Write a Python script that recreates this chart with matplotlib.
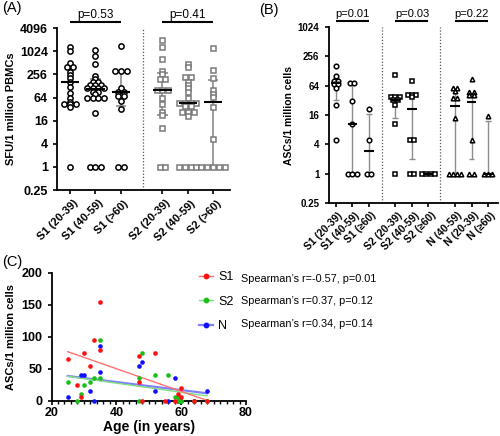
import matplotlib.pyplot as plt
import matplotlib.transforms as mtransforms
import numpy as np
from matplotlib.lines import Line2D
from matplotlib.ticker import MultipleLocator

plt.rcParams['font.family'] = ['Liberation Sans', 'DejaVu Sans']

# ---- Panel A: SFU per 1 million PBMCs (log2 axis)
a_groups = ["S1 (20-39)", "S1 (40-59)", "S1 (>60)",
            "S2 (20-39)", "S2 (40-59)", "S2 (>60)"]
a_s1_20_39 = [1300, 1050, 500, 400, 400, 290, 250, 205, 160, 123, 86, 61,
              50, 43, 43, 43, 36, 1]
a_s1_40_59 = [1100, 780, 480, 240, 190, 167, 167, 136, 136, 136, 111, 111,
              111, 111, 91, 91, 78, 61, 61, 61, 61, 26, 1, 1, 1]
a_s1_60 = [1400, 310, 310, 310, 115, 88, 88, 70, 70, 52, 32, 1, 1]
a_s2_20_39 = [2000, 1350, 640, 315, 260, 190, 190, 100, 100, 100, 61, 43,
              27, 22, 10.5, 1, 1]
a_s2_40_59 = [480, 395, 217, 217, 160, 136, 111, 88, 64, 45, 45, 45, 45,
              39, 39, 27, 27, 27, 21, 1, 1, 1, 1]
a_s2_60 = [1280, 335, 211, 101, 79, 65, 37, 5.2, 1, 1, 1, 1, 1]
a_median = [160, 105, 88, 100, 47, 50]
a_q1 = [43, 60, 38, 22.5, 27, 1]
a_q3 = [360, 190, 295, 277, 190, 180]
a_pvals = ["p=0.53", "p=0.41"]
a_yticks = [0.25, 1, 4, 16, 64, 256, 1024, 4096]

# ---- Panel B: ASCs per 1 million cells (log2 axis)
b_groups = ["S1 (20-39)", "S1 (40-59)", "S1 (\u226560)",
            "S2 (20-39)", "S2 (40-59)", "S2 (\u226560)",
            "N (40-59)", "N (20-39)", "N (\u226560)"]
b_s1_20_39 = [160, 100, 80, 80, 70, 70, 56, 26, 5]
b_s1_40_59 = [72, 72, 31, 10.5, 1, 1, 1]
b_s1_60 = [21, 5, 1, 1]
b_s2_20_39 = [105, 38, 38, 38, 32, 32, 26, 10.5, 1]
b_s2_40_59 = [80, 42, 42, 42, 37, 5, 5, 1, 1]
b_s2_60 = [1, 1, 1, 1]
b_n_40_59 = [58, 58, 50, 36, 36, 14, 1, 1, 1, 1]
b_n_20_39 = [88, 48, 48, 42, 42, 5, 1, 1]
b_n_60 = [15, 1, 1, 1]
b_median = [73, 10.5, 3, 32, 21, 1, 25, 29, 1]
b_q1 = [33, 1, 1, 14, 2, 1, 1, 2, 1]
b_q3 = [92, 70, 17, 38, 42, 1, 54, 41, 12]
b_pvals = ["p=0.01", "p=0.03", "p=0.22"]
b_yticks = [0.25, 1, 4, 16, 64, 256, 1024]

# ---- Panel C: ASCs vs age
c_s1_age = [25, 28, 29, 30, 32, 33, 35, 35, 47, 47, 48, 52, 55, 58, 59, 60,
            60, 64, 68]
c_s1_val = [65, 25, 5, 75, 55, 95, 80, 155, 70, 30, 0, 75, 0, 0, 10, 20,
            5, 0, 0]
c_s2_age = [25, 28, 29, 30, 32, 33, 35, 35, 47, 47, 48, 52, 56, 58, 59, 59,
            60, 60, 64, 68]
c_s2_val = [30, 0, 10, 25, 30, 35, 95, 35, 35, 0, 75, 40, 40, 5, 5, 0,
            0, 0, 0, 0]
c_n_age = [25, 29, 30, 32, 33, 35, 35, 47, 48, 52, 56, 58, 59, 60, 64, 68]
c_n_val = [5, 40, 40, 15, 0, 85, 45, 55, 60, 15, 0, 35, 0, 0, 0, 15]
c_labels = ["S1", "S2", "N"]
c_stats = ["Spearman\u2019s r=-0.57, p=0.01",
           "Spearman\u2019s r=0.37, p=0.12",
           "Spearman\u2019s r=0.34, p=0.14"]


def spread(vals, step):
    # put equal values side by side, centred on the column
    vals = np.asarray(vals, float)
    offs = np.zeros(len(vals))
    for v in np.unique(vals):
        idx = np.where(vals == v)[0]
        offs[idx] = (np.arange(len(idx)) - (len(idx) - 1) / 2) * step
    return offs


def dot_column(ax, x, vals, med, lo, hi, marker, color, ms, mew, step,
               med_w, cap_w, lw):
    whisk = "#8c8c8c"
    ax.vlines(x, lo, hi, color=whisk, lw=lw, zorder=1)
    ax.hlines([lo, hi], x - cap_w, x + cap_w, color=whisk, lw=lw, zorder=1)
    ax.plot(x + spread(vals, step), vals, ls="none", marker=marker,
            mfc="white", mec=color, ms=ms, mew=mew, zorder=3, clip_on=False)
    ax.hlines(med, x - med_w, x + med_w, color="black", lw=1.5, zorder=4)


def style_axes(ax):
    for s in ("top", "right"):
        ax.spines[s].set_visible(False)
    for s in ("left", "bottom"):
        ax.spines[s].set_linewidth(1.3)
    ax.tick_params(direction="out", length=3, width=1.2)


def pbar(ax, x0, x1, text, ybar, ytxt, fs):
    trans = mtransforms.blended_transform_factory(ax.transData, ax.transAxes)
    ax.plot([x0, x1], [ybar, ybar], transform=trans, color="black", lw=1.5,
            clip_on=False, solid_capstyle="butt")
    ax.text((x0 + x1) / 2, ytxt, text, transform=trans, ha="center",
            va="center", fontsize=fs)


def slanted_labels(ax, labels, fs, pad, dx_pt):
    ax.set_xticklabels(labels, rotation=45, ha="right", va="center",
                       rotation_mode="anchor", fontweight="bold", fontsize=fs)
    ax.tick_params(axis="x", pad=pad)
    off = mtransforms.ScaledTranslation(dx_pt / 72, 0, fig.dpi_scale_trans)
    for lab in ax.get_xticklabels():
        lab.set_transform(lab.get_transform() + off)


fig = plt.figure(figsize=(5, 4.36), dpi=100)

# ---------------- (A)
axA = fig.add_axes([0.114, 0.5642, 0.346, 0.371])
style_axes(axA)
axA.set_yscale("log", base=2)
axA.set_ylim(0.25, 4096)
axA.set_xlim(-0.52, 6.32)
pos_a = [0, 1, 2, 3.65, 4.65, 5.65]
a_data = [a_s1_20_39, a_s1_40_59, a_s1_60, a_s2_20_39, a_s2_40_59, a_s2_60]
for i, vals in enumerate(a_data):
    s1 = i < 3
    dot_column(axA, pos_a[i], vals, a_median[i], a_q1[i], a_q3[i],
               "o" if s1 else "s", "black" if s1 else "#7a7a7a",
               3.8 if s1 else 3.6, 1.1, 0.23, 0.36, 0.2, 1.2)
axA.axvline(2.87, color="#555555", ls=(0, (1, 1.5)), lw=0.9)
axA.set_yticks(a_yticks)
axA.set_yticklabels([f"{t:g}" for t in a_yticks], fontweight="bold",
                    fontsize=9)
axA.yaxis.set_minor_locator(plt.NullLocator())
axA.set_xticks(pos_a)
slanted_labels(axA, a_groups, 8, 5.5, 4.5)
axA.set_ylabel("SFU/1 million PBMCs", fontweight="bold", fontsize=8,
               labelpad=3)
pbar(axA, pos_a[0], pos_a[2], a_pvals[0], 1.041, 1.085, 8.5)
pbar(axA, pos_a[3], pos_a[5], a_pvals[1], 1.041, 1.085, 8.5)
fig.text(0.004, 0.982, "(A)", fontsize=10.5, va="center", ha="left")

# ---------------- (B)
axB = fig.add_axes([0.657, 0.5337, 0.339, 0.405])
style_axes(axB)
axB.set_yscale("log", base=2)
axB.set_ylim(0.25, 1024)
axB.set_xlim(-0.44, 9.8)
pos_b = [0, 1, 2, 3.6, 4.6, 5.6, 7.2, 8.2, 9.2]
b_data = [b_s1_20_39, b_s1_40_59, b_s1_60, b_s2_20_39, b_s2_40_59, b_s2_60,
          b_n_40_59, b_n_20_39, b_n_60]
b_markers = ["o"] * 3 + ["s"] * 3 + ["^"] * 3
for i, vals in enumerate(b_data):
    dot_column(axB, pos_b[i], vals, b_median[i], b_q1[i], b_q3[i],
               b_markers[i], "black", 3.3, 1.1, 0.26, 0.28, 0.18, 1.0)
axB.axvline(2.77, color="#555555", ls=(0, (1, 1.5)), lw=0.9)
axB.axvline(6.27, color="#555555", ls=(0, (1, 1.5)), lw=0.9)
axB.set_yticks(b_yticks)
axB.set_yticklabels([f"{t:g}" for t in b_yticks], fontweight="bold",
                    fontsize=7)
axB.yaxis.set_minor_locator(plt.NullLocator())
axB.set_xticks(pos_b)
slanted_labels(axB, b_groups, 7.5, 4.5, 4)
axB.set_ylabel("ASCs/1 million cells", fontweight="bold", fontsize=7.5,
               labelpad=3)
for k in range(3):
    pbar(axB, pos_b[3 * k], pos_b[3 * k + 2], b_pvals[k], 1.034, 1.072, 8)
fig.text(0.518, 0.977, "(B)", fontsize=10.5, va="center", ha="left")

# ---------------- (C)
axC = fig.add_axes([0.103, 0.081, 0.389, 0.293])
style_axes(axC)
axC.set_xlim(20, 80)
axC.set_ylim(0, 200)
axC.xaxis.set_major_locator(MultipleLocator(20))
axC.xaxis.set_minor_locator(MultipleLocator(2))
axC.yaxis.set_major_locator(MultipleLocator(50))
axC.tick_params(which="minor", length=2, width=1.0)
axC.tick_params(axis="x", pad=1.5)
for lab in axC.get_xticklabels() + axC.get_yticklabels():
    lab.set_fontweight("bold")
    lab.set_fontsize(9)
axC.set_xlabel("Age (in years)", fontweight="bold", fontsize=10,
               labelpad=0.5)
axC.set_ylabel("ASCs/1 million cells", fontweight="bold", fontsize=8,
               labelpad=4)

series = [(c_n_age, c_n_val, "#1010ff", "#8080ff", 1.6),
          (c_s2_age, c_s2_val, "#18c018", "#80e080", 1.0),
          (c_s1_age, c_s1_val, "#ff1010", "#ff7070", 1.0)]
handles = {}
for (age, val, dark, light, lw), name in zip(series, ["N", "S2", "S1"]):
    age = np.asarray(age, float)
    val = np.asarray(val, float)
    axC.scatter(age, val, s=11, color=dark, linewidths=0, zorder=3,
                clip_on=False)
    slope, icpt = np.polyfit(age, val, 1)
    xs = np.array([age.min(), age.max()])
    axC.plot(xs, icpt + slope * xs, color=light, lw=lw, zorder=2)
    handles[name] = Line2D([], [], color=light, lw=lw, marker="o", ms=3.2,
                           mfc=dark, mec=dark)

axC.legend([handles[n] for n in c_labels], c_labels, loc="upper left",
           bbox_to_anchor=(0.398, 0.378), bbox_transform=fig.transFigure,
           frameon=False, fontsize=9, handlelength=1.15, handletextpad=0.4,
           labelspacing=1.0, borderpad=0, borderaxespad=0)
for k, txt in enumerate(c_stats):
    fig.text(0.482, 0.361 - k * 0.0525, txt, fontsize=7.8, va="center",
             ha="left")
fig.text(0.004, 0.40, "(C)", fontsize=10.5, va="center", ha="left")

fig.savefig("out.png", dpi=100)
